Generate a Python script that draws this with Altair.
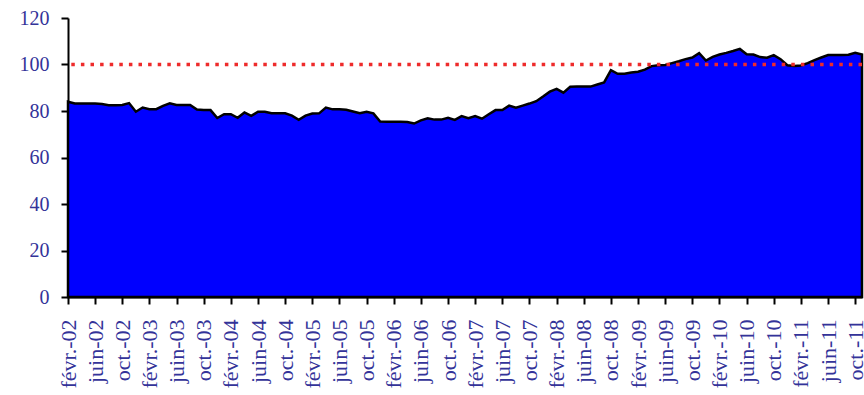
import json
import altair as alt
import pandas as pd

# Monthly index values, Feb 2002 to Nov 2011
values = [
    84.0, 83.2, 83.2, 83.2, 83.2, 83.0, 82.5, 82.5, 82.6, 83.4,
    79.7, 81.5, 80.8, 80.8, 82.2, 83.3, 82.6, 82.6, 82.6, 80.6,
    80.4, 80.4, 77.0, 78.6, 78.6, 77.1, 79.4, 77.9, 79.7, 79.7,
    79.0, 79.0, 79.0, 78.0, 76.2, 78.0, 78.9, 79.0, 81.5, 80.7,
    80.7, 80.5, 79.8, 79.0, 79.7, 79.0, 75.5, 75.4, 75.4, 75.4,
    75.3, 74.6, 76.0, 76.9, 76.3, 76.3, 77.1, 76.2, 77.8, 76.9,
    77.8, 76.7, 78.6, 80.4, 80.4, 82.3, 81.4, 82.3, 83.2, 84.2,
    86.2, 88.3, 89.5, 87.9, 90.4, 90.5, 90.5, 90.5, 91.4, 92.3,
    97.6, 96.0, 96.0, 96.6, 96.9, 97.8, 99.3, 99.7, 99.8, 100.6,
    101.4, 102.3, 103.0, 104.9, 101.7, 103.3, 104.3, 105.0, 105.8, 106.7,
    104.4, 104.3, 103.2, 102.9, 104.0, 102.3, 99.7, 99.4, 99.6, 100.6,
    101.9, 103.0, 104.1, 104.1, 104.1, 104.2, 105.0, 104.3,
]

# Axis labels, one every four months
tick_labels = [
    "févr.-02", "juin-02", "oct.-02",
    "févr.-03", "juin-03", "oct.-03",
    "févr.-04", "juin-04", "oct.-04",
    "févr.-05", "juin-05", "oct.-05",
    "févr.-06", "juin-06", "oct.-06",
    "févr.-07", "juin-07", "oct.-07",
    "févr.-08", "juin-08", "oct.-08",
    "févr.-09", "juin-09", "oct.-09",
    "févr.-10", "juin-10", "oct.-10",
    "févr.-11", "juin-11", "oct.-11",
]

reference_level = 100

months = pd.date_range("2002-02-01", periods=len(values), freq="MS")
df = pd.DataFrame({"idx": range(len(values)), "month": months, "value": values})

label_font = "Liberation Serif"
label_color = "#333399"
label_expr = json.dumps(tick_labels, ensure_ascii=False) + "[round(datum.value / 4)]"

x_enc = alt.X(
    "idx:Q",
    scale=alt.Scale(domain=[0, len(values) - 1], nice=False, zero=False),
    axis=alt.Axis(
        title=None,
        values=list(range(0, len(values), 4)),
        labelExpr=label_expr,
        labelAngle=270,
        labelFont=label_font,
        labelFontSize=22,
        labelColor=label_color,
        labelPadding=15,
        labelOverlap=False,
        labelFlush=False,
        tickSize=7,
        tickWidth=2,
        tickColor="black",
        domainColor="black",
        domainWidth=2,
        grid=False,
    ),
)

y_enc = alt.Y(
    "value:Q",
    scale=alt.Scale(domain=[0, 120], nice=False),
    axis=alt.Axis(
        title=None,
        values=[0, 20, 40, 60, 80, 100, 120],
        labelFont=label_font,
        labelFontSize=20,
        labelColor=label_color,
        labelPadding=12,
        tickSize=7,
        tickWidth=2,
        tickColor="black",
        domainColor="black",
        domainWidth=2,
        grid=False,
    ),
)

area = alt.Chart(df).mark_area(
    fill="#0000ff", stroke="black", strokeWidth=2.5, strokeJoin="miter"
).encode(x=x_enc, y=y_enc)

rule = alt.Chart(pd.DataFrame({"level": [reference_level]})).mark_rule(
    color="#ee2b2b", strokeWidth=3.5, strokeDash=[3.5, 6.1]
).encode(y=alt.Y("level:Q", scale=alt.Scale(domain=[0, 120], nice=False)))

chart = (
    alt.layer(area, rule)
    .properties(
        width=794,
        height=279,
        autosize=alt.AutoSizeParams(type="none"),
        padding={"left": 68, "top": 18, "right": 2, "bottom": 98},
        background="white",
    )
    .configure_view(strokeWidth=0)
)

chart.save("out.html", embed_options={"renderer": "svg", "actions": False})
